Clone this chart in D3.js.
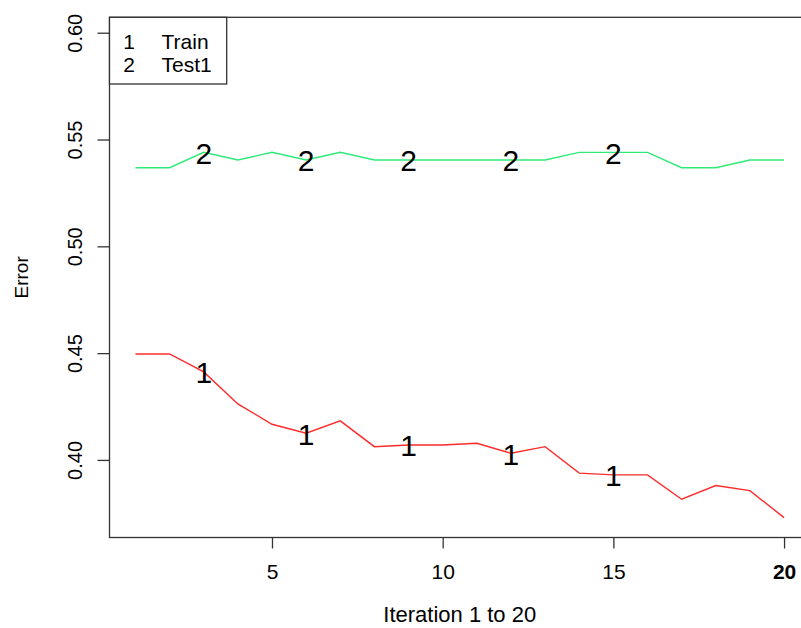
<!DOCTYPE html>
<html>
<head>
<meta charset="utf-8">
<script src="https://cdn.jsdelivr.net/npm/d3@7"></script>
<style>
  html, body { margin: 0; padding: 0; background: #fff; }
  svg { display: block; }
  text { font-family: "Liberation Sans", Arial, sans-serif; fill: #000; }
</style>
</head>
<body>
<svg id="chart" width="801" height="628"></svg>
<script>
// Iterations along the x axis
const iterations = d3.range(1, 21);

// Error per iteration for each series
const trainError = [0.4496, 0.4496, 0.4412, 0.4262, 0.4167, 0.4125, 0.4183, 0.4062, 0.4070, 0.4070,
                    0.4078, 0.4031, 0.4062, 0.3938, 0.3930, 0.3930, 0.3816, 0.3880, 0.3856, 0.3730];
const test1Error = [0.5368, 0.5368, 0.5440, 0.5404, 0.5440, 0.5404, 0.5440, 0.5404, 0.5404, 0.5404,
                    0.5404, 0.5404, 0.5404, 0.5440, 0.5440, 0.5440, 0.5368, 0.5368, 0.5404, 0.5404];

const seriesNames = ["Train", "Test1"];
const seriesSymbols = ["1", "2"];
const seriesColors = ["#ff2a2a", "#2eea78"];

// Iterations where the series symbol is written on the line
const symbolAt = [3, 6, 9, 12, 15];

// Axis ticks
const xTicks = [5, 10, 15, 20];
const yTicks = [0.40, 0.45, 0.50, 0.55, 0.60];

// Axis limits (before the 4% range extension)
const xLimits = [1, 20];
const yLimits = [0.3727, 0.5982];

const svg = d3.select("#chart");
const plot = { left: 109.5, right: 810, top: 17.3, bottom: 537.5 };

function expand(lim) {
  const pad = (lim[1] - lim[0]) * 0.04;
  return [lim[0] - pad, lim[1] + pad];
}

const x = d3.scaleLinear().domain(expand(xLimits)).range([plot.left, plot.right]);
const y = d3.scaleLinear().domain(expand(yLimits)).range([plot.bottom, plot.top]);

const series = [trainError, test1Error];

// Lines
const line = d3.line().x((d, i) => x(iterations[i])).y(d => y(d));
svg.append("g").selectAll("path")
  .data(series)
  .join("path")
  .attr("d", d => line(d))
  .attr("fill", "none")
  .attr("stroke", (d, i) => seriesColors[i])
  .attr("stroke-width", 1.4);

// Symbols written on the lines
series.forEach((vals, s) => {
  svg.append("g").selectAll("text")
    .data(symbolAt)
    .join("text")
    .attr("x", it => x(it))
    .attr("y", it => y(vals[iterations.indexOf(it)]))
    .attr("dy", "0.38em")
    .attr("text-anchor", "middle")
    .attr("font-size", 30)
    .text(seriesSymbols[s]);
});

// Plot frame
svg.append("rect")
  .attr("x", plot.left).attr("y", plot.top)
  .attr("width", plot.right - plot.left).attr("height", plot.bottom - plot.top)
  .attr("fill", "none").attr("stroke", "#333").attr("stroke-width", 1.3);

// X axis
const xAxis = svg.append("g")
  .attr("transform", `translate(0,${plot.bottom})`)
  .call(d3.axisBottom(x).tickValues(xTicks).tickSize(11).tickPadding(16).tickFormat(d3.format("d")));
xAxis.select(".domain").remove();
xAxis.selectAll(".tick line").attr("stroke", "#333").attr("stroke-width", 1.3);
xAxis.selectAll(".tick text")
  .attr("font-size", 21)
  .attr("font-family", "Liberation Sans, Arial, sans-serif")
  .attr("font-weight", d => d === 20 ? "bold" : "normal")
  .attr("fill", "#000");

// Y axis with rotated labels
const yAxis = svg.append("g")
  .attr("transform", `translate(${plot.left},0)`)
  .call(d3.axisLeft(y).tickValues(yTicks).tickSize(12).tickFormat(d3.format(".2f")));
yAxis.select(".domain").remove();
yAxis.selectAll(".tick line").attr("stroke", "#333").attr("stroke-width", 1.3);
yAxis.selectAll(".tick text")
  .attr("x", null).attr("dy", null)
  .attr("text-anchor", "middle")
  .attr("transform", "translate(-28,0) rotate(-90)")
  .attr("font-size", 20)
  .attr("font-family", "Liberation Sans, Arial, sans-serif")
  .attr("fill", "#000");

// Axis titles
svg.append("text")
  .attr("x", (plot.left + plot.right) / 2)
  .attr("y", 622)
  .attr("text-anchor", "middle")
  .attr("font-size", 22)
  .text("Iteration 1 to 20");

svg.append("text")
  .attr("transform", `translate(28,${(plot.top + plot.bottom) / 2}) rotate(-90)`)
  .attr("text-anchor", "middle")
  .attr("font-size", 19)
  .text("Error");

// Legend
const legend = svg.append("g");
legend.append("rect")
  .attr("x", plot.left).attr("y", plot.top)
  .attr("width", 117.2).attr("height", 66.7)
  .attr("fill", "#fff").attr("stroke", "#333").attr("stroke-width", 1.3);
seriesNames.forEach((name, i) => {
  const baseY = 49.3 + i * 22.4;
  legend.append("text")
    .attr("x", 129).attr("y", baseY)
    .attr("text-anchor", "middle")
    .attr("font-size", 21)
    .text(seriesSymbols[i]);
  legend.append("text")
    .attr("x", 161.5).attr("y", baseY)
    .attr("font-size", 21)
    .text(name);
});
</script>
</body>
</html>
